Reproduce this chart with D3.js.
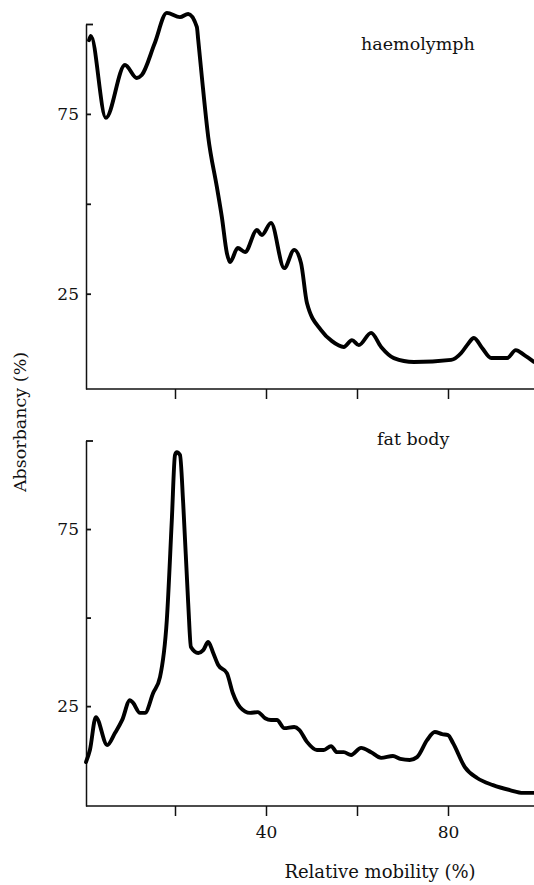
<!DOCTYPE html>
<html>
<head>
<meta charset="utf-8">
<script src="https://cdn.jsdelivr.net/npm/d3@7"></script>
<style>
  html, body { margin: 0; padding: 0; background: #fff; }
  svg { display: block; }
  text { font-family: "DejaVu Serif", "Liberation Serif", serif; fill: #111; }
</style>
</head>
<body>
<svg id="chart" width="534" height="885"></svg>
<script>
// ---- Data (Relative mobility %, Absorbancy %) ----
const haemoMobility = [1.1, 1.5, 4.8, 9.0, 11.6, 12.7, 15.5, 18.2, 21.1, 22.9, 24.8, 25.1, 25.9, 27.3, 29.2, 30.3, 31.4, 32.1, 33.8, 35.4, 38.0, 39.1, 41.1, 44.0, 46.2, 47.7, 49.0, 52.1, 54.5, 57.1, 58.9, 60.4, 63.1, 65.3, 68.1, 72.5, 80.7, 82.9, 84.2, 85.7, 87.5, 89.5, 93.0, 94.9, 96.7, 98.9];
const haemoAbsorb   = [95.5, 96.7, 73.9, 88.6, 85.0, 85.8, 94.5, 103.1, 101.9, 102.8, 99.2, 95.6, 85.3, 68.6, 54.7, 46.3, 36.3, 33.8, 37.7, 36.6, 42.7, 41.3, 44.7, 32.1, 37.2, 33.5, 22.4, 14.9, 11.8, 10.2, 12.1, 10.7, 14.1, 10.2, 7.1, 6.0, 6.6, 8.5, 10.7, 12.7, 9.9, 7.1, 7.1, 9.3, 8.0, 6.0];

const fatMobility = [0.44, 1.3, 2.6, 5.1, 6.8, 8.4, 10.1, 10.8, 12.3, 13.4, 15.2, 16.7, 18.2, 19.3, 20.0, 20.4, 21.1, 21.8, 22.9, 23.5, 25.1, 26.2, 27.3, 28.4, 29.5, 31.4, 32.7, 34.3, 36.5, 38.2, 39.8, 41.1, 42.4, 44.0, 46.2, 47.3, 49.0, 51.2, 52.7, 54.3, 55.6, 57.1, 58.7, 60.9, 63.1, 65.3, 67.9, 69.5, 71.6, 73.2, 75.4, 77.1, 78.7, 80.0, 81.1, 83.7, 86.4, 89.9, 93.6, 96.5, 98.9];
const fatAbsorb   = [9.2, 12.6, 21.9, 14.0, 17.4, 21.1, 26.7, 25.9, 23.1, 23.1, 28.7, 33.2, 49.3, 77.5, 95.9, 96.7, 95.9, 82.3, 54.1, 41.7, 40.0, 40.8, 43.1, 40.0, 36.6, 34.3, 28.7, 24.7, 23.1, 23.3, 21.6, 21.1, 21.1, 18.8, 19.1, 18.3, 14.9, 12.6, 12.6, 13.7, 12.0, 12.0, 11.2, 13.2, 12.0, 10.4, 10.9, 10.1, 9.8, 10.6, 15.4, 17.7, 17.1, 16.8, 14.6, 7.8, 4.7, 2.7, 1.3, 0.5, 0.5];

const yTicks = [25, 50, 75, 100];
const yTickLabels = ["25", "75"];
const xTicks = [20, 40, 60, 80];
const xTickLabels = ["40", "80"];
const panelTitles = ["haemolymph", "fat body"];
const yAxisTitle = "Absorbancy (%)";
const xAxisTitle = "Relative mobility (%)";

// ---- Layout ----
const svg = d3.select("#chart");
const x = d3.scaleLinear().domain([0, 100]).range([84, 539]);
const axisX = 86, rightEdge = 534;

const panels = [
  { mob: haemoMobility, abs: haemoAbsorb, title: panelTitles[0],
    y: d3.scaleLinear().domain([-1.5, 100]).range([389, 24]),
    showXLabels: false, titleX: 361, titleY: 50 },
  { mob: fatMobility, abs: fatAbsorb, title: panelTitles[1],
    y: d3.scaleLinear().domain([-3.2, 100]).range([806, 440.5]),
    showXLabels: true, titleX: 377, titleY: 445 }
];

panels.forEach(p => {
  const g = svg.append("g");
  const y = p.y;
  const baseY = y.range()[0];

  // y axis (ticks pointing inward)
  const yAxis = d3.axisLeft(y)
    .tickValues(yTicks)
    .tickSize(-5)
    .tickSizeOuter(0)
    .tickPadding(7)
    .tickFormat(d => yTickLabels.includes(String(d)) ? String(d) : "");
  const ya = g.append("g").attr("transform", `translate(${axisX},0)`).call(yAxis);
  ya.select(".domain").attr("stroke", "#111").attr("stroke-width", 1.5);
  ya.selectAll(".tick line").attr("stroke", "#111").attr("stroke-width", 1.8);
  ya.selectAll(".tick text")
    .attr("font-family", "DejaVu Serif")
    .attr("font-size", 17).attr("fill", "#111");
  ya.selectAll(".tick").filter(d => d === 100).select("line").attr("x2", 7);

  // x axis
  const xAxis = d3.axisBottom(x)
    .tickValues(xTicks)
    .tickSize(10)
    .tickSizeOuter(0)
    .tickPadding(10)
    .tickFormat(d => (p.showXLabels && xTickLabels.includes(String(d))) ? String(d) : "");
  const xa = g.append("g").attr("transform", `translate(0,${baseY})`).call(xAxis);
  xa.select(".domain").remove();
  xa.append("line").attr("x1", axisX).attr("x2", rightEdge).attr("y1", 0).attr("y2", 0)
    .attr("stroke", "#111").attr("stroke-width", 1.5);
  xa.selectAll(".tick line").attr("stroke", "#111").attr("stroke-width", 1.5);
  xa.selectAll(".tick text")
    .attr("font-family", "DejaVu Serif")
    .attr("font-size", 17).attr("fill", "#111");

  // data line
  const pts = p.mob.map((m, i) => [m, p.abs[i]]);
  const line = d3.line().x(d => x(d[0])).y(d => y(d[1])).curve(d3.curveMonotoneX);
  g.append("path").datum(pts)
    .attr("d", line)
    .attr("fill", "none")
    .attr("stroke", "#000")
    .attr("stroke-width", 3.9)
    .attr("stroke-linejoin", "round")
    .attr("stroke-linecap", "round");

  // panel title
  g.append("text").attr("x", p.titleX).attr("y", p.titleY)
    .attr("font-size", 17.5).text(p.title);
});

// axis titles
svg.append("text")
  .attr("transform", "translate(26,422) rotate(-90)")
  .attr("text-anchor", "middle")
  .attr("font-size", 17.5)
  .text(yAxisTitle);

svg.append("text")
  .attr("x", 380).attr("y", 878)
  .attr("text-anchor", "middle")
  .attr("font-size", 18)
  .text(xAxisTitle);
</script>
</body>
</html>
